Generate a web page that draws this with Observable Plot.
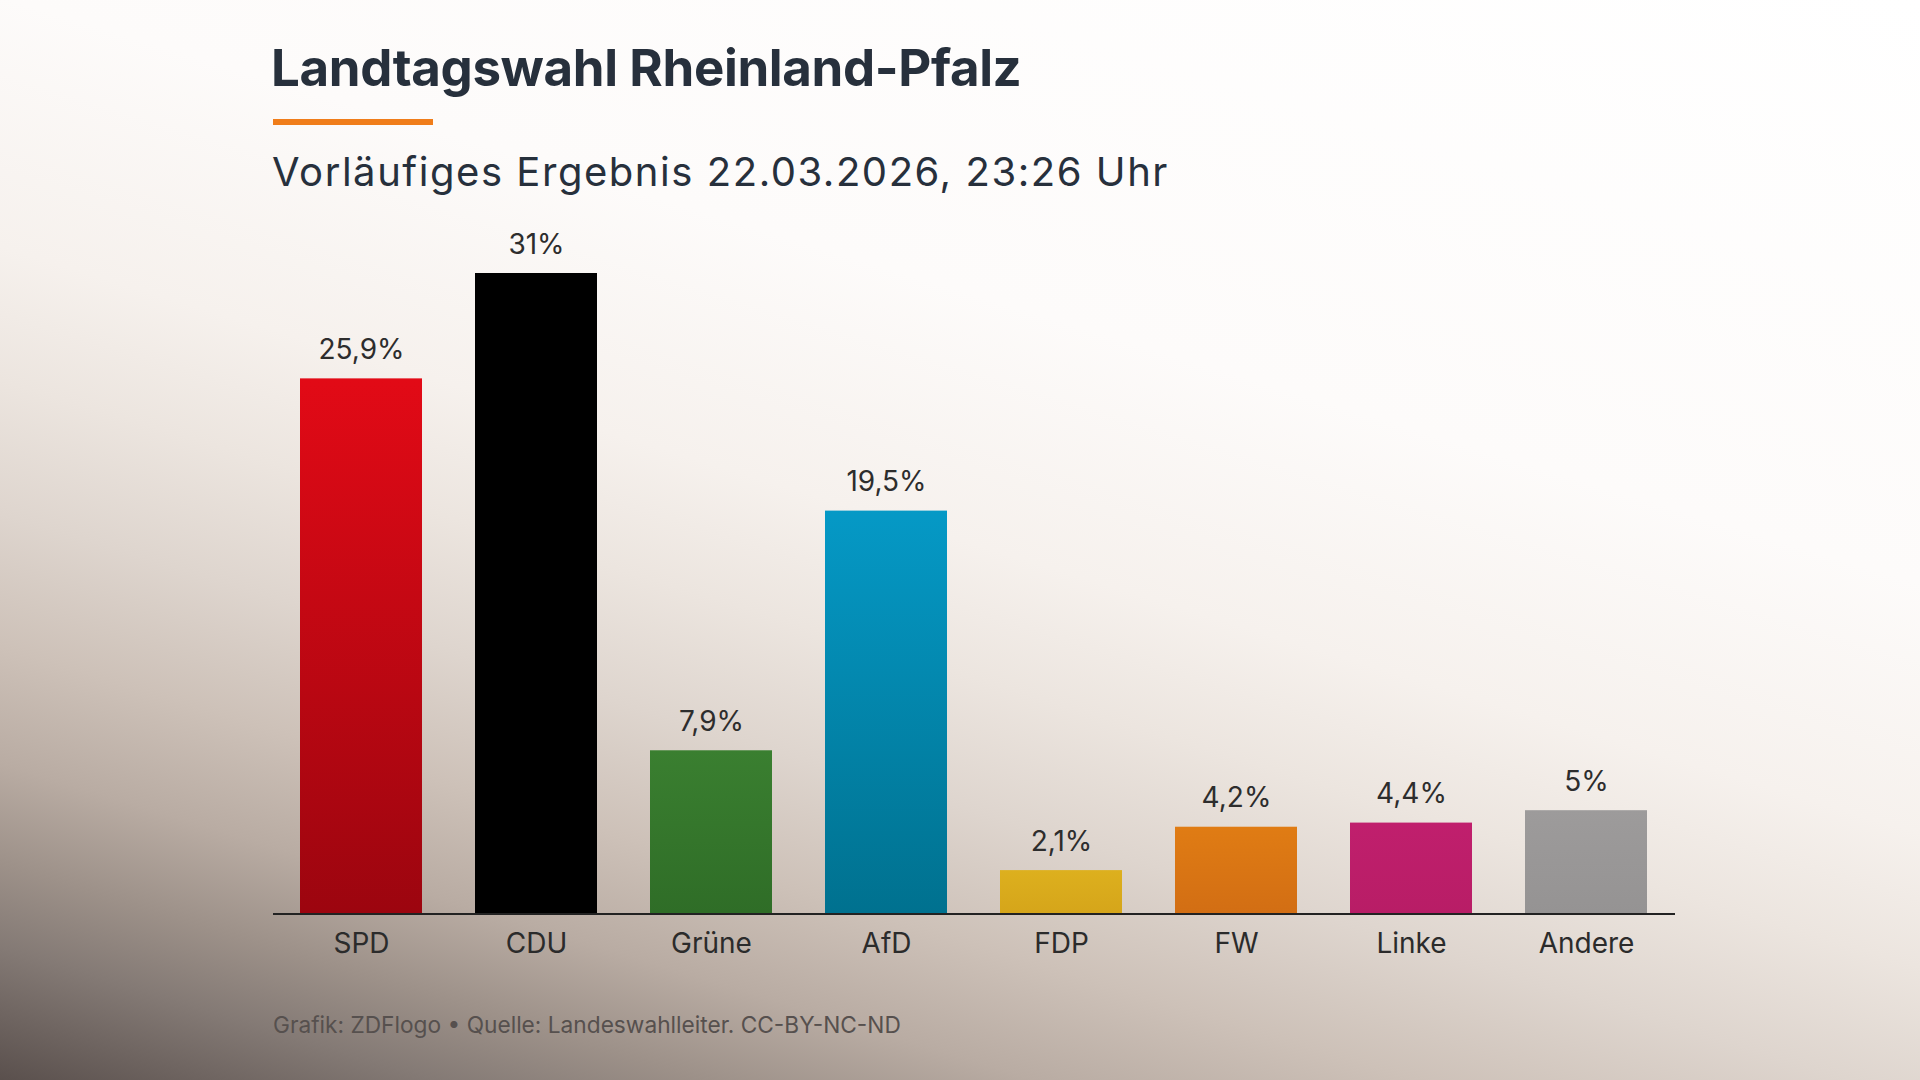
<!DOCTYPE html>
<html>
<head>
<meta charset="utf-8">
<script src="https://cdn.jsdelivr.net/npm/d3@7"></script>
<script src="https://cdn.jsdelivr.net/npm/@observablehq/plot@0.6"></script>
<style>
  html, body { margin: 0; padding: 0; }
  body { width: 1920px; height: 1080px; overflow: hidden; font-family: Inter, "Noto Sans", sans-serif; }
  #page {
    position: relative; width: 1920px; height: 1080px;
    background: linear-gradient(197deg, #ffffff 0%, #fdfbfa 35%, #f6f1ed 50%, #ece5df 58%, #ded5ce 66%, #cdc1b8 74%, #b9aca3 81%, #9d9189 87%, #847a75 92%, #5a504d 100%);
  }
  #header { position: relative; height: 210px; }
  #title { position: absolute; left: 271px; top: 38px; margin: 0; font-size: 51px; font-weight: 700; color: #27303c; letter-spacing: -0.35px; line-height: 60px; white-space: nowrap; }
  #rule { position: absolute; left: 273px; top: 119px; width: 160px; height: 6px; background: #f07d1a; }
  #subtitle { position: absolute; left: 272px; top: 147px; margin: 0; font-size: 40px; font-weight: 400; color: #27303c; letter-spacing: 1.55px; line-height: 50px; white-space: nowrap; }
  #chart { position: relative; height: 790px; }
  #footer { position: absolute; left: 273px; top: 1011px; font-size: 22.7px; color: #56504e; white-space: nowrap; }
</style>
</head>
<body>
<div id="page">
  <div id="header">
    <h1 id="title">Landtagswahl Rheinland-Pfalz</h1>
    <div id="rule"></div>
    <h2 id="subtitle">Vorläufiges Ergebnis 22.03.2026, 23:26 Uhr</h2>
  </div>
  <div id="chart"></div>
  <div id="footer">Grafik: ZDFlogo • Quelle: Landeswahlleiter. CC-BY-NC-ND</div>
</div>
<script>
const parties = ["SPD", "CDU", "Grüne", "AfD", "FDP", "FW", "Linke", "Andere"];
const shares = [25.9, 31, 7.9, 19.5, 2.1, 4.2, 4.4, 5];
const labels = ["25,9%", "31%", "7,9%", "19,5%", "2,1%", "4,2%", "4,4%", "5%"];
const colorTop = ["#e20a16", "#000000", "#3a7f30", "#0599c6", "#ddb01e", "#e07c14", "#c01f6d", "#9d9b9b"];
const colorBottom = ["#9c050f", "#000000", "#2f6d27", "#00718f", "#d5a51a", "#d26e14", "#b81d66", "#959393"];

const data = parties.map((p, i) => ({party: p, share: shares[i], label: labels[i], grad: `url(#grad-${i})`}));

function gradients() {
  const ns = "http://www.w3.org/2000/svg";
  const defs = document.createElementNS(ns, "defs");
  parties.forEach((p, i) => {
    const g = document.createElementNS(ns, "linearGradient");
    g.setAttribute("id", `grad-${i}`);
    g.setAttribute("x1", "0"); g.setAttribute("y1", "0");
    g.setAttribute("x2", "0"); g.setAttribute("y2", "1");
    [[0, colorTop[i]], [1, colorBottom[i]]].forEach(([o, c]) => {
      const s = document.createElementNS(ns, "stop");
      s.setAttribute("offset", o);
      s.setAttribute("stop-color", c);
      g.appendChild(s);
    });
    defs.appendChild(g);
  });
  return defs;
}

const chart = Plot.plot({
  width: 1920,
  height: 790,
  marginLeft: 273,
  marginRight: 245,
  marginTop: 63,
  marginBottom: 86.5,
  style: {background: "transparent", fontFamily: "Inter, 'Noto Sans', sans-serif", fontSize: "28px", color: "#2b2b2b"},
  x: {domain: parties, paddingInner: 0.3, paddingOuter: 0.15, label: null},
  y: {domain: [0, 31], axis: null},
  color: {type: "identity"},
  marks: [
    gradients,
    Plot.barY(data, {x: "party", y: "share", fill: "grad"}),
    Plot.ruleY([0], {stroke: "#222", strokeWidth: 2}),
    Plot.text(data, {x: "party", y: "share", text: "label", lineAnchor: "bottom", dy: -20, fontSize: 28, fill: "#2d2d2d"}),
    Plot.axisX({tickSize: 0, tickPadding: 19, fontSize: 28, fill: "#2b2b2b", label: null})
  ]
});
document.getElementById("chart").appendChild(chart);
</script>
</body>
</html>
